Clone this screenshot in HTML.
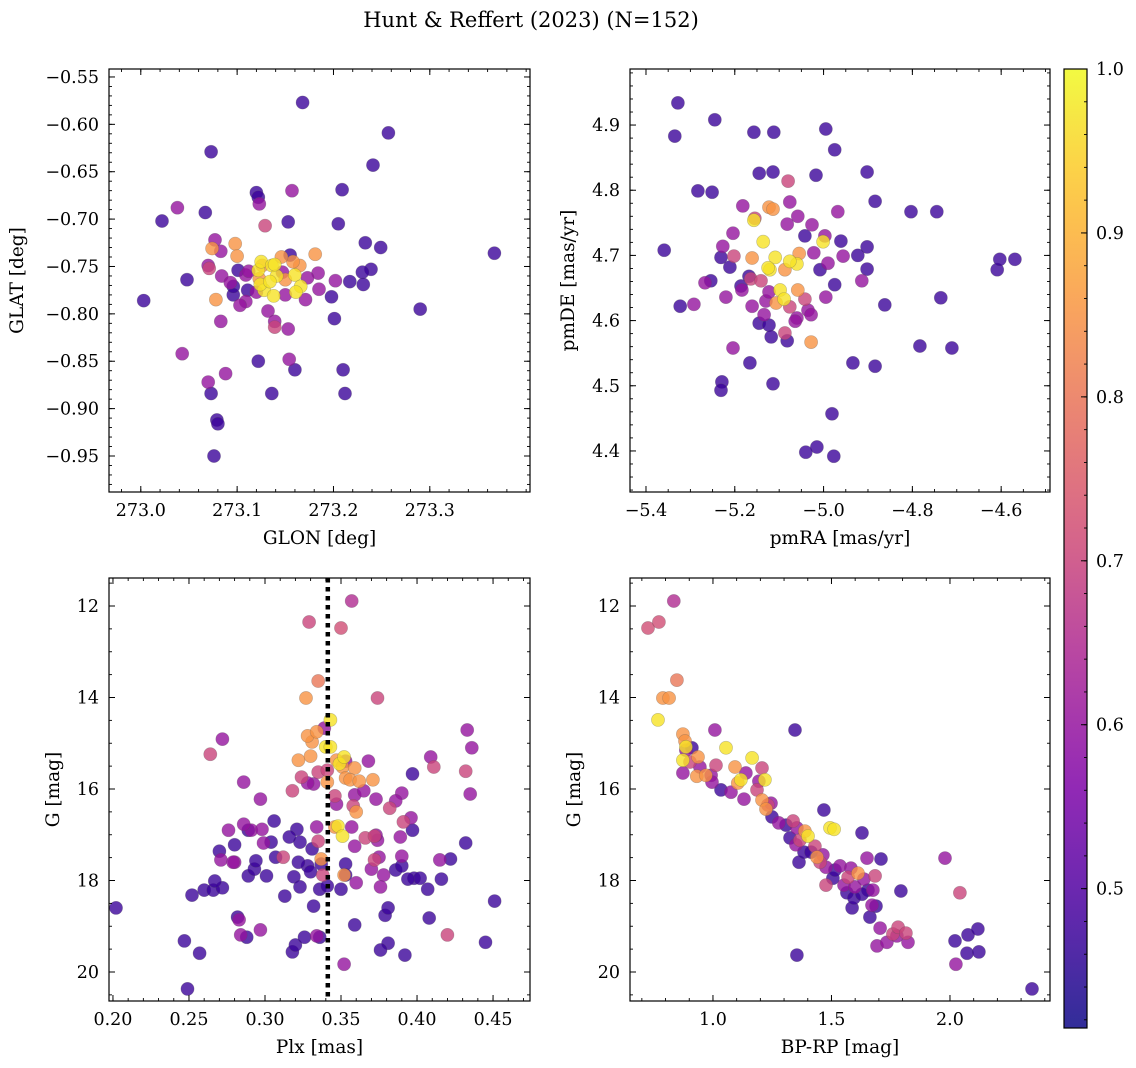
<!DOCTYPE html>
<html><head><meta charset="utf-8"><style>
html,body{margin:0;padding:0;background:#fff;}
svg{display:block;font-family:"DejaVu Serif","Liberation Serif",serif;}
</style></head><body>
<svg id="fig" width="1136" height="1068" xmlns="http://www.w3.org/2000/svg">
<text x="531" y="27" font-size="21" text-anchor="middle">Hunt &amp; Reffert (2023) (N=152)</text>
</svg>
<script>
// ---- data: GLON/GLAT panel
const tlX=[273.168,273.257,273.073,273.241,273.022,273.038,273.067,273.120,273.122,273.157,273.123,273.209,273.153,273.205,273.233,273.249,273.239,273.367,273.290,273.201,273.210,273.212,273.136,273.160,273.154,273.122,273.043,273.070,273.073,273.079,273.080,273.076,273.003,273.048,273.083,273.088,273.077,273.070,273.083,273.109,273.129,273.098,273.100,273.074,273.071,273.078,273.109,273.132,273.139,273.139,273.153,273.171,273.184,273.202,273.217,273.230,273.231,273.198,273.185,273.122,273.125,273.136,273.141,273.128,273.124,273.134,273.150,273.160,273.165,273.181,273.155,273.101,273.096,273.096,273.111,273.120,273.103,273.084,273.093,273.158,273.147,273.138,273.139,273.126,273.112,273.123,273.146,273.173,273.166,273.161,273.150];
const tlY=[-0.577,-0.609,-0.629,-0.643,-0.702,-0.688,-0.693,-0.672,-0.677,-0.670,-0.684,-0.669,-0.703,-0.705,-0.725,-0.730,-0.753,-0.736,-0.795,-0.805,-0.859,-0.884,-0.884,-0.859,-0.848,-0.850,-0.842,-0.872,-0.884,-0.912,-0.916,-0.950,-0.786,-0.764,-0.808,-0.863,-0.722,-0.749,-0.734,-0.759,-0.707,-0.726,-0.739,-0.731,-0.752,-0.785,-0.787,-0.797,-0.814,-0.808,-0.816,-0.785,-0.757,-0.765,-0.766,-0.756,-0.769,-0.782,-0.774,-0.754,-0.745,-0.749,-0.760,-0.775,-0.769,-0.766,-0.764,-0.759,-0.749,-0.737,-0.738,-0.754,-0.780,-0.771,-0.775,-0.777,-0.791,-0.760,-0.767,-0.745,-0.756,-0.781,-0.748,-0.749,-0.755,-0.763,-0.740,-0.762,-0.771,-0.777,-0.780];
const tlP=[0.47,0.47,0.47,0.47,0.47,0.6,0.47,0.47,0.47,0.6,0.6,0.47,0.47,0.47,0.47,0.47,0.47,0.47,0.47,0.47,0.47,0.47,0.47,0.47,0.6,0.47,0.6,0.6,0.47,0.47,0.47,0.47,0.47,0.47,0.6,0.6,0.6,0.6,0.6,0.6,0.7,0.85,0.85,0.85,0.7,0.85,0.6,0.6,0.7,0.6,0.6,0.6,0.6,0.6,0.47,0.47,0.47,0.47,0.6,0.97,0.97,0.97,0.97,0.97,0.97,0.97,0.85,0.97,0.85,0.85,0.47,0.47,0.47,0.47,0.47,0.6,0.6,0.6,0.6,0.85,0.6,0.97,0.97,0.85,0.6,0.85,0.85,0.6,0.97,0.97,0.6];
// ---- data: proper motion panel
const trX=[-5.328,-5.245,-5.335,-5.157,-5.112,-4.995,-4.975,-5.251,-5.283,-5.359,-5.231,-5.227,-5.254,-5.267,-5.292,-5.220,-5.323,-5.229,-5.231,-5.204,-5.166,-5.114,-4.981,-5.015,-4.977,-5.040,-4.783,-4.884,-4.934,-4.862,-4.902,-4.711,-4.736,-4.745,-4.803,-4.609,-4.603,-4.569,-4.902,-4.884,-4.902,-5.017,-4.968,-5.145,-5.114,-5.182,-5.204,-5.155,-5.123,-5.114,-5.082,-5.026,-4.997,-4.961,-4.990,-4.956,-4.923,-4.914,-5.022,-5.055,-5.060,-5.076,-5.109,-5.121,-5.125,-5.087,-5.098,-5.089,-5.161,-5.164,-5.130,-5.107,-5.076,-5.058,-5.042,-5.035,-5.028,-5.060,-5.123,-5.141,-5.161,-5.184,-5.087,-5.028,-5.064,-5.134,-5.186,-5.168,-5.145,-5.123,-5.082,-5.118,-5.076,-5.058,-5.080,-5.042,-5.008,-4.975,-4.995,-5.157,-5.136,-5.202,-5.211,-5.001];
const trY=[4.934,4.908,4.883,4.889,4.889,4.894,4.862,4.797,4.799,4.708,4.697,4.714,4.661,4.658,4.625,4.636,4.622,4.506,4.493,4.558,4.535,4.503,4.457,4.406,4.392,4.398,4.561,4.530,4.535,4.624,4.679,4.558,4.635,4.767,4.767,4.678,4.694,4.694,4.713,4.783,4.828,4.823,4.767,4.826,4.828,4.776,4.734,4.757,4.774,4.771,4.748,4.747,4.730,4.722,4.688,4.699,4.700,4.661,4.704,4.703,4.687,4.691,4.697,4.678,4.681,4.678,4.647,4.633,4.696,4.664,4.630,4.627,4.621,4.647,4.633,4.616,4.609,4.604,4.644,4.661,4.622,4.647,4.581,4.567,4.599,4.609,4.653,4.668,4.596,4.593,4.569,4.575,4.782,4.760,4.814,4.730,4.678,4.655,4.636,4.754,4.721,4.699,4.682,4.721];
const trP=[0.47,0.47,0.47,0.47,0.47,0.47,0.47,0.47,0.47,0.47,0.47,0.6,0.47,0.6,0.6,0.6,0.47,0.47,0.47,0.6,0.47,0.47,0.47,0.47,0.47,0.47,0.47,0.47,0.47,0.47,0.47,0.47,0.47,0.47,0.47,0.47,0.47,0.47,0.47,0.47,0.47,0.47,0.6,0.47,0.47,0.6,0.6,0.7,0.85,0.85,0.6,0.6,0.6,0.47,0.6,0.6,0.47,0.6,0.6,0.85,0.97,0.97,0.97,0.97,0.97,0.85,0.97,0.97,0.85,0.7,0.6,0.85,0.7,0.85,0.7,0.6,0.6,0.6,0.6,0.7,0.6,0.6,0.7,0.85,0.6,0.6,0.47,0.47,0.47,0.47,0.47,0.47,0.6,0.6,0.7,0.47,0.47,0.47,0.6,0.97,0.97,0.7,0.47,0.97];
// ---- data: parallax vs G panel
const blX=[0.202,0.249,0.247,0.257,0.252,0.260,0.266,0.272,0.267,0.271,0.280,0.276,0.291,0.284,0.288,0.297,0.282,0.283,0.289,0.293,0.280,0.270,0.279,0.264,0.272,0.286,0.297,0.306,0.312,0.301,0.294,0.313,0.319,0.323,0.328,0.330,0.323,0.331,0.332,0.336,0.337,0.322,0.298,0.307,0.321,0.316,0.299,0.304,0.286,0.289,0.318,0.320,0.326,0.334,0.336,0.341,0.350,0.353,0.353,0.338,0.335,0.337,0.334,0.346,0.348,0.332,0.328,0.318,0.331,0.328,0.322,0.330,0.324,0.329,0.335,0.327,0.334,0.339,0.335,0.343,0.340,0.343,0.341,0.341,0.346,0.347,0.347,0.349,0.352,0.351,0.353,0.359,0.358,0.360,0.359,0.356,0.353,0.350,0.357,0.351,0.352,0.359,0.359,0.352,0.360,0.357,0.366,0.370,0.372,0.372,0.375,0.374,0.378,0.376,0.379,0.381,0.381,0.376,0.373,0.374,0.368,0.362,0.365,0.371,0.373,0.382,0.390,0.389,0.386,0.390,0.392,0.391,0.390,0.397,0.386,0.396,0.397,0.398,0.402,0.407,0.408,0.416,0.415,0.422,0.432,0.433,0.432,0.436,0.435,0.451,0.445,0.420,0.394,0.409,0.411];
const blY=[18.60,20.37,19.32,19.59,18.32,18.21,18.21,18.16,18.01,17.55,17.60,16.90,16.90,19.19,19.24,19.08,18.80,18.86,17.90,17.75,17.22,17.36,17.60,15.24,14.91,15.85,16.22,16.70,17.49,17.90,17.57,18.34,17.92,18.14,17.68,17.81,17.16,17.31,18.56,18.19,17.64,17.60,16.88,17.49,16.88,17.05,17.18,17.16,16.77,16.90,19.56,19.41,19.24,19.21,19.24,18.12,18.19,17.88,17.64,17.88,17.14,17.53,16.83,16.83,16.81,15.89,15.87,16.04,14.97,14.84,15.37,15.28,15.74,12.35,13.64,14.01,14.75,14.67,15.63,14.49,15.08,15.08,15.59,15.85,16.15,16.33,15.37,15.45,15.30,15.52,15.76,16.13,16.37,16.50,15.54,15.80,15.39,12.48,11.89,17.03,17.88,17.25,18.97,19.83,18.05,16.83,17.07,17.75,17.55,17.03,17.49,17.12,17.88,18.14,18.76,18.60,19.37,19.52,17.01,14.01,15.39,15.83,16.04,15.80,16.22,16.42,17.47,17.05,17.77,17.68,19.63,16.72,16.09,15.67,16.26,16.63,16.90,17.95,17.95,18.19,18.82,17.97,17.55,17.53,17.18,14.71,15.61,15.10,16.11,18.45,19.35,19.19,17.97,15.30,15.52];
const blP=[0.47,0.47,0.47,0.47,0.47,0.47,0.47,0.47,0.47,0.6,0.6,0.6,0.6,0.6,0.47,0.6,0.47,0.6,0.47,0.47,0.47,0.47,0.6,0.7,0.6,0.6,0.6,0.47,0.7,0.47,0.47,0.47,0.47,0.47,0.47,0.47,0.47,0.47,0.47,0.47,0.47,0.47,0.6,0.47,0.47,0.47,0.6,0.47,0.6,0.47,0.47,0.47,0.47,0.6,0.47,0.47,0.47,0.47,0.47,0.7,0.7,0.85,0.6,0.85,0.97,0.6,0.6,0.7,0.85,0.85,0.85,0.85,0.7,0.7,0.8,0.85,0.85,0.6,0.7,0.97,0.97,0.97,0.7,0.85,0.7,0.6,0.85,0.97,0.97,0.85,0.85,0.6,0.7,0.85,0.85,0.85,0.6,0.72,0.65,0.97,0.85,0.6,0.47,0.6,0.6,0.6,0.7,0.6,0.7,0.7,0.6,0.6,0.6,0.6,0.47,0.47,0.47,0.47,0.6,0.7,0.6,0.85,0.6,0.85,0.6,0.7,0.6,0.6,0.47,0.47,0.47,0.7,0.6,0.47,0.6,0.6,0.47,0.47,0.47,0.47,0.47,0.47,0.6,0.47,0.47,0.6,0.7,0.6,0.6,0.47,0.47,0.7,0.47,0.6,0.7];
// ---- data: colour-magnitude panel
const brX=[0.726,0.772,0.835,0.789,0.815,0.848,0.768,0.873,0.882,0.886,0.911,0.873,0.886,0.903,0.873,0.932,0.945,0.970,0.937,1.008,1.013,1.055,0.992,1.034,0.996,1.076,1.093,1.105,1.118,1.131,1.139,1.165,1.186,1.194,1.207,1.219,1.207,1.232,1.224,1.245,1.249,1.278,1.308,1.338,1.346,1.325,1.354,1.350,1.363,1.367,1.388,1.401,1.384,1.414,1.430,1.439,1.452,1.464,1.468,1.477,1.477,1.494,1.511,1.506,1.515,1.536,1.553,1.565,1.570,1.582,1.587,1.595,1.599,1.612,1.629,1.637,1.650,1.654,1.662,1.671,1.675,1.684,1.688,1.692,1.705,1.709,1.734,1.759,1.776,1.781,1.793,1.823,1.814,1.354,1.979,2.042,2.025,2.021,2.076,2.118,2.072,2.122,2.346,1.629];
const brY=[12.48,12.35,11.89,14.01,14.01,13.62,14.49,14.80,14.95,15.15,15.10,15.37,15.08,15.41,15.65,15.72,15.52,15.70,15.30,14.71,15.48,15.10,15.70,16.02,15.85,16.07,15.52,15.87,15.80,16.22,15.65,15.32,16.02,15.83,15.54,15.80,16.24,16.35,16.44,16.31,16.61,16.74,16.79,16.70,14.71,17.07,16.85,17.22,17.60,17.12,16.92,17.03,17.38,17.38,17.25,17.49,17.60,17.44,16.46,17.71,18.10,16.85,16.88,17.95,17.77,17.68,18.10,18.27,17.93,17.73,18.60,18.38,18.14,17.84,16.96,17.97,17.51,18.21,18.80,18.54,18.21,17.90,18.56,19.43,19.04,17.53,19.35,19.17,19.21,19.02,18.23,19.35,19.15,19.63,17.51,18.27,19.83,19.32,19.19,19.06,19.59,19.56,20.37,18.30];
const brP=[0.72,0.72,0.65,0.85,0.85,0.8,0.97,0.85,0.85,0.6,0.47,0.97,0.97,0.7,0.6,0.85,0.6,0.85,0.85,0.6,0.7,0.97,0.6,0.47,0.6,0.6,0.85,0.85,0.97,0.6,0.6,0.97,0.7,0.6,0.7,0.97,0.85,0.7,0.85,0.6,0.47,0.6,0.47,0.7,0.47,0.47,0.6,0.6,0.47,0.7,0.85,0.97,0.47,0.47,0.7,0.85,0.7,0.6,0.47,0.6,0.7,0.97,0.97,0.47,0.47,0.6,0.6,0.47,0.7,0.6,0.47,0.47,0.6,0.85,0.47,0.6,0.6,0.47,0.47,0.6,0.6,0.7,0.47,0.6,0.6,0.47,0.6,0.7,0.6,0.7,0.47,0.6,0.7,0.47,0.6,0.7,0.6,0.47,0.47,0.47,0.47,0.47,0.47,0.47];
const tlXTicks=[273.0,273.1,273.2,273.3];
const tlYTicks=[-0.95,-0.90,-0.85,-0.80,-0.75,-0.70,-0.65,-0.60,-0.55];
const trXTicks=[-5.4,-5.2,-5.0,-4.8,-4.6];
const trYTicks=[4.4,4.5,4.6,4.7,4.8,4.9];
const blXTicks=[0.20,0.25,0.30,0.35,0.40,0.45];
const gTicks=[12,14,16,18,20];
const brXTicks=[1.0,1.5,2.0];
const cbTicks=[0.5,0.6,0.7,0.8,0.9,1.0];
const plxLine=[0.34];

const NS="http://www.w3.org/2000/svg";
const svg=document.getElementById('fig');
const VMIN=0.415,VMAX=1.0;
const TF=17.5, LF=18.5;
const stops=[[0,[13,8,135]],[0.13,[76,2,161]],[0.25,[126,3,168]],[0.38,[169,35,149]],[0.5,[204,71,120]],[0.63,[229,107,93]],[0.75,[248,148,65]],[0.88,[253,195,40]],[1,[240,249,33]]];
function plasma(t){t=Math.max(0,Math.min(1,t));for(let i=1;i<stops.length;i++){if(t<=stops[i][0]){const a=stops[i-1],b=stops[i],f=(t-a[0])/(b[0]-a[0]);return 'rgb('+a[1].map((v,k)=>Math.round(v+(b[1][k]-v)*f)).join(',')+')';}}return 'rgb(240,249,33)';}
function mk(tag,attrs,parent){const e=document.createElementNS(NS,tag);for(const k in attrs)e.setAttribute(k,attrs[k]);(parent||svg).appendChild(e);return e;}
function lin(d0,d1,r0,r1){return v=>r0+(v-d0)/(d1-d0)*(r1-r0);}
function fmt(v,dec){return (v<0?'\u2212':'')+Math.abs(v).toFixed(dec);}

function panel(o){
  const g=mk('g',{});
  
  
  const sx=lin(o.xd[0],o.xd[1],o.x0,o.x1), sy=lin(o.yd[0],o.yd[1],o.y1,o.y0);
  const idx=o.xs.map((_,i)=>i).sort((a,b)=>o.ps[a]-o.ps[b]);
  const clip='c'+o.name;
  const cp=mk('clipPath',{id:clip},g);mk('rect',{x:o.x0,y:o.y0,width:o.x1-o.x0,height:o.y1-o.y0},cp);
  const pg=mk('g',{'clip-path':'url(#'+clip+')'},g);
  idx.forEach(i=>{
    const c=mk('circle',{cx:sx(o.xs[i]).toFixed(1),cy:sy(o.ys[i]).toFixed(1),r:6.6,fill:plasma((o.ps[i]-VMIN)/(VMAX-VMIN)),'fill-opacity':0.8,stroke:'#555','stroke-opacity':0.35,'stroke-width':0.6},pg);
    
    
  });
  if(o.vline){o.vline.forEach(v=>{const l=mk('line',{x1:sx(v)+2,x2:sx(v)+2,y1:o.y0,y2:o.y1,stroke:'#000','stroke-width':4.5,'stroke-dasharray':'4.5,4.5'},pg);
    
    });}
  const fr=mk('rect',{x:o.x0,y:o.y0,width:o.x1-o.x0,height:o.y1-o.y0,fill:'none',stroke:'#000','stroke-width':1.2},g);
  
  
  for(let v=Math.ceil(Math.min(...o.xd)/o.xm-1e-6)*o.xm; v<=Math.max(...o.xd); v+=o.xm){const X=sx(v);if(X<o.x0||X>o.x1)continue;
    mk('line',{x1:X,x2:X,y1:o.y1,y2:o.y1-3,stroke:'#000','stroke-width':0.9},g);mk('line',{x1:X,x2:X,y1:o.y0,y2:o.y0+3,stroke:'#000','stroke-width':0.9},g);}
  for(let v=Math.ceil(Math.min(...o.yd)/o.ym-1e-6)*o.ym; v<=Math.max(...o.yd); v+=o.ym){const Y=sy(v);if(Y<o.y0||Y>o.y1)continue;
    mk('line',{x1:o.x0,x2:o.x0+3,y1:Y,y2:Y,stroke:'#000','stroke-width':0.9},g);mk('line',{x1:o.x1,x2:o.x1-3,y1:Y,y2:Y,stroke:'#000','stroke-width':0.9},g);}
  o.xt.forEach(v=>{const X=sx(v);
    mk('line',{x1:X,x2:X,y1:o.y1,y2:o.y1-6,stroke:'#000','stroke-width':1},g);mk('line',{x1:X,x2:X,y1:o.y0,y2:o.y0+6,stroke:'#000','stroke-width':1},g);
    const t=mk('text',{x:X,y:o.y1+24,'font-size':TF,'text-anchor':'middle'},g);t.textContent=fmt(v,o.xdec);
    
    });
  o.yt.forEach(v=>{const Y=sy(v);
    mk('line',{x1:o.x0,x2:o.x0+6,y1:Y,y2:Y,stroke:'#000','stroke-width':1},g);mk('line',{x1:o.x1,x2:o.x1-6,y1:Y,y2:Y,stroke:'#000','stroke-width':1},g);
    const t=mk('text',{x:o.x0-10,y:Y+6,'font-size':TF,'text-anchor':'end'},g);t.textContent=fmt(v,o.ydec);
    
    });
  const xl=mk('text',{x:(o.x0+o.x1)/2,y:o.y1+52,'font-size':LF,'text-anchor':'middle'},g);xl.textContent=o.xlab;
  
  
  const yl=mk('text',{x:o.ylx,y:(o.y0+o.y1)/2,'font-size':LF,'text-anchor':'middle',transform:'rotate(-90 '+o.ylx+' '+(o.y0+o.y1)/2+')'},g);yl.textContent=o.ylab;
  
  
}
panel({name:'glon-glat-panel',x0:109,x1:530,y0:69,y1:492,xd:[272.967,273.404],yd:[-0.988,-0.5416],xs:tlX,ys:tlY,ps:tlP,xt:tlXTicks,yt:tlYTicks,xm:0.02,ym:0.01,xdec:1,ydec:2,xlab:'GLON [deg]',ylab:'GLAT [deg]',ylx:23});
panel({name:'proper-motion-panel',x0:630,x1:1050,y0:69,y1:492,xd:[-5.436,-4.490],yd:[4.337,4.986],xs:trX,ys:trY,ps:trP,xt:trXTicks,yt:trYTicks,xm:0.05,ym:0.02,xdec:1,ydec:1,xlab:'pmRA [mas/yr]',ylab:'pmDE [mas/yr]',ylx:574});
panel({name:'parallax-magnitude-panel',x0:109,x1:530,y0:578,y1:1001,xd:[0.1974,0.4743],yd:[20.634,11.388],xs:blX,ys:blY,ps:blP,xt:blXTicks,yt:gTicks,xm:0.01,ym:0.5,xdec:2,ydec:0,xlab:'Plx [mas]',ylab:'G [mag]',ylx:59,vline:plxLine});
panel({name:'color-magnitude-panel',x0:630,x1:1050,y0:578,y1:1001,xd:[0.650,2.422],yd:[20.634,11.388],xs:brX,ys:brY,ps:brP,xt:brXTicks,yt:gTicks,xm:0.1,ym:0.5,xdec:1,ydec:0,xlab:'BP-RP [mag]',ylab:'G [mag]',ylx:580});

(function(){
  const g=mk('g',{});
  
  
  const defs=mk('defs',{},g);const lg=mk('linearGradient',{id:'cbg',x1:0,y1:1,x2:0,y2:0},defs);
  for(let i=0;i<=20;i++){mk('stop',{offset:i/20,'stop-color':plasma(i/20),'stop-opacity':0.85},lg);}
  const x0=1064,x1=1087,y0=69,y1=1028;
  mk('rect',{x:x0,y:y0,width:x1-x0,height:y1-y0,fill:'url(#cbg)',stroke:'#000','stroke-width':1.2},g);
  const sy=lin(VMIN,VMAX,y1,y0);
  for(let v=0.42;v<=1.0001;v+=0.02){const Y=sy(v);mk('line',{x1:x1,x2:x1-3,y1:Y,y2:Y,stroke:'#000','stroke-width':0.9},g);}
  cbTicks.forEach(v=>{const Y=sy(v);mk('line',{x1:x1,x2:x1-6,y1:Y,y2:Y,stroke:'#000','stroke-width':1},g);
    const t=mk('text',{x:x1+9,y:Y+6,'font-size':TF},g);t.textContent=v.toFixed(1);
    
    });
})();
</script>
</body></html>
